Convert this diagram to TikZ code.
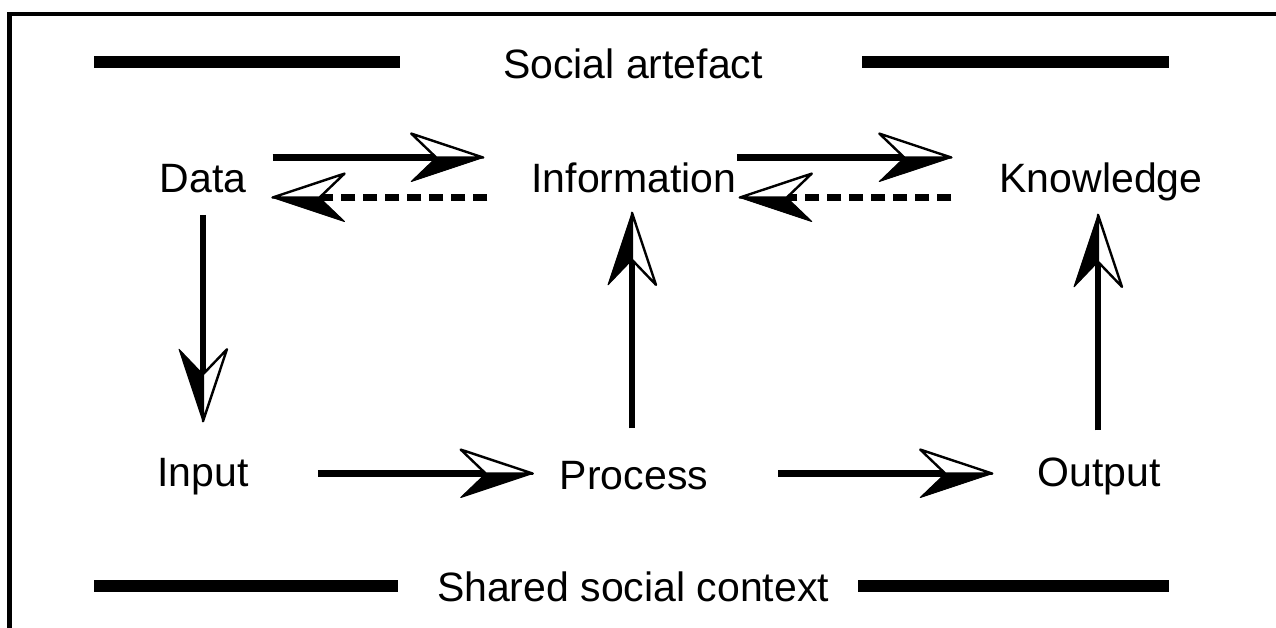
\documentclass[tikz,border=0pt]{standalone}
\usepackage{fontspec}
\setmainfont{Liberation Sans}
\usetikzlibrary{calc}

% shaft, then a head with one half filled and the other half open
\newcommand{\flowline}[5][]{%
  \draw[flow,#1] (#2) -- ($(#3)!47pt!(#2)$);
  \filldraw[line width=1pt,line join=round] (#3) -- ($(#3)!75.9pt!#4:(#2)$) -- ($(#3)!47pt!(#2)$) -- cycle;
  \filldraw[fill=white,line width=2.4pt,line join=round] (#3) -- ($(#3)!75.9pt!#5:(#2)$) -- ($(#3)!47pt!(#2)$) -- cycle;
}

\begin{document}
\begin{tikzpicture}[x=1pt,y=-1pt,
    lbl/.style={inner sep=0pt,anchor=base,font=\fontsize{41}{48}\selectfont,text height=29.5pt,text depth=8.6pt},
    flow/.style={line width=6.5pt},
    back/.style={dash pattern=on 14pt off 8pt},
    bar/.style={line width=12pt}]
    \useasboundingbox (0,0) rectangle (1276,628);
    \draw[line width=4.5pt] (9.5,628) -- (9.5,14) -- (1276,14);

    \node[lbl] (artefact) at (633,79) {Social artefact};
    \node[lbl] (context) at (633,601) {Shared social context};
    \draw[bar] (94,62) -- (400,62);
    \draw[bar] (862,62) -- (1169,62);
    \draw[bar] (94,586) -- (398,586);
    \draw[bar] (858,586) -- (1169,586);

    \node[lbl] (data) at (203,193) {Data};
    \node[lbl] (info) at (634,193) {Information};
    \node[lbl] (know) at (1101,193) {Knowledge};
    \node[lbl] (input) at (203,486) {Input};
    \node[lbl] (process) at (634,489) {Process};
    \node[lbl] (output) at (1099,486) {Output};

    \flowline{[shift={(26,-25)}]data.east}{[shift={(-48,-25)}]info.west}{18.4}{-18.4}
    \flowline[back]{[shift={(-44,15)}]info.west}{[shift={(26,15)}]data.east}{-18.4}{18.4}
    \flowline{[shift={(0,-25)}]info.east}{[shift={(-48,-25)}]know.west}{18.4}{-18.4}
    \flowline[back]{[shift={(-48,15)}]know.west}{[shift={(3,15)}]info.east}{-18.4}{18.4}
    \flowline{[shift={(0,13)}]data.south}{[shift={(0,-35)}]input.north}{18.4}{-18.4}
    \flowline{[shift={(69,-2)}]input.east}{[shift={(-27,-5)}]process.west}{18.4}{-18.4}
    \flowline{[shift={(70,-5)}]process.east}{[shift={(-45,-2)}]output.west}{18.4}{-18.4}
    \flowline{[shift={(-2,-31)}]process.north}{[shift={(-2,11)}]info.south}{-18.4}{18.4}
    \flowline{[shift={(-1,-26)}]output.north}{[shift={(-3,13)}]know.south}{-18.4}{18.4}
\end{tikzpicture}
\end{document}
